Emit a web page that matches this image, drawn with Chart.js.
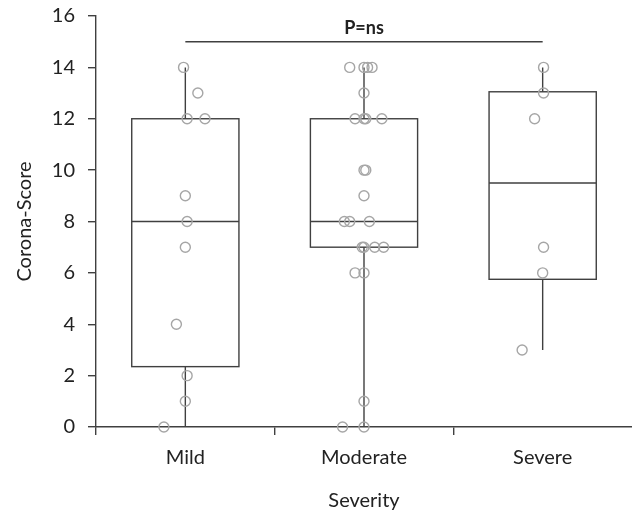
<!DOCTYPE html>
<html>
<head>
<meta charset="utf-8">
<script src="https://cdn.jsdelivr.net/npm/chart.js@4.4.0/dist/chart.umd.min.js"></script>
<style>
  html, body { margin: 0; padding: 0; background: #fff; }
  canvas { display: block; }
</style>
</head>
<body>
<canvas id="grafico" width="632" height="511"></canvas>
<script>
const categorias = ['Mild', 'Moderate', 'Severe'];

// Corona-Score por paciente + desplazamiento horizontal (jitter, en unidades de categoría)
const scoresMild = [14, 13, 12, 12, 9, 8, 7, 4, 2, 1, 0];
const jitterMild = [-0.01, 0.07, 0.01, 0.11, 0, 0.01, 0, -0.05, 0.01, 0, -0.12];

const scoresModerate = [14, 14, 14, 14, 13, 12, 12, 12, 12, 10, 10, 9, 8, 8, 8, 7, 7, 7, 7, 6, 6, 1, 0, 0];
const jitterModerate = [-0.08, 0, 0.02, 0.045, 0, -0.05, 0, 0.01, 0.1, 0, 0.01, 0, -0.11, -0.08, 0.03, -0.01, 0, 0.06, 0.11, -0.05, 0, 0, -0.12, 0];

const scoresSevere = [14, 13, 12, 7, 6, 3];
const jitterSevere = [0.005, 0.005, -0.045, 0.005, 0, -0.115];

// estadísticos de las cajas
const bigoteMin = [0, 0, 3];
const q1 = [2.35, 7, 5.75];
const mediana = [8, 8, 9.5];
const q3 = [12, 12, 13.05];
const bigoteMax = [14, 14, 14];

const yMin = 0, yMax = 16, yPaso = 2;
const textoP = 'P=ns';
const alturaP = 15;

const COLOR_LINEA = '#404040';
const COLOR_TEXTO = '#222';
const ANCHO_CAJA = 0.6;

function puntos(scores, jitter, idx) {
  return scores.map((s, i) => ({ x: idx + jitter[i], y: s }));
}

const todosPuntos = [
  ...puntos(scoresMild, jitterMild, 0),
  ...puntos(scoresModerate, jitterModerate, 1),
  ...puntos(scoresSevere, jitterSevere, 2)
];

const cajas = {
  id: 'cajas',
  beforeDatasetsDraw(chart) {
    const ctx = chart.ctx;
    const x = chart.scales.xj, y = chart.scales.y;
    ctx.save();
    ctx.strokeStyle = COLOR_LINEA;
    ctx.lineWidth = 1.4;
    categorias.forEach((c, i) => {
      const xl = x.getPixelForValue(i - ANCHO_CAJA / 2);
      const xr = x.getPixelForValue(i + ANCHO_CAJA / 2);
      const xc = x.getPixelForValue(i);
      const yq1 = y.getPixelForValue(q1[i]);
      const yq3 = y.getPixelForValue(q3[i]);
      const ymed = y.getPixelForValue(mediana[i]);
      ctx.strokeRect(xl, yq3, xr - xl, yq1 - yq3);
      ctx.beginPath();
      ctx.moveTo(xl, ymed); ctx.lineTo(xr, ymed);
      ctx.moveTo(xc, yq3); ctx.lineTo(xc, y.getPixelForValue(bigoteMax[i]));
      ctx.moveTo(xc, yq1); ctx.lineTo(xc, y.getPixelForValue(bigoteMin[i]));
      ctx.stroke();
    });
    ctx.restore();
  },
  afterDatasetsDraw(chart) {
    const ctx = chart.ctx;
    const x = chart.scales.xj, y = chart.scales.y;
    ctx.save();
    ctx.fillStyle = COLOR_TEXTO;
    ctx.font = 'bold 18px Lato';
    ctx.textAlign = 'center';
    ctx.textBaseline = 'alphabetic';
    ctx.fillText(textoP, x.getPixelForValue(1), y.getPixelForValue(alturaP) - 8);
    ctx.restore();
  }
};

window.onload = () => {
  new Chart(document.getElementById('grafico'), {
    type: 'scatter',
    plugins: [cajas],
    data: {
      datasets: [
        {
          label: 'Corona-Score',
          data: todosPuntos,
          xAxisID: 'xj',
          yAxisID: 'y',
          pointStyle: 'circle',
          pointRadius: 5,
          pointBorderWidth: 1.4,
          borderColor: '#a6a6a6',
          backgroundColor: 'rgba(0,0,0,0)',
          clip: false
        },
        {
          type: 'line',
          label: 'p',
          data: [{ x: 0, y: alturaP }, { x: 2, y: alturaP }],
          xAxisID: 'xj',
          yAxisID: 'y',
          borderColor: COLOR_LINEA,
          borderWidth: 1.4,
          pointRadius: 0,
          fill: false
        }
      ]
    },
    options: {
      responsive: false,
      animation: false,
      layout: { autoPadding: false, padding: { top: 16, left: 0, right: 0, bottom: 0 } },
      plugins: {
        legend: { display: false },
        tooltip: { enabled: false }
      },
      scales: {
        x: {
          type: 'category',
          labels: categorias,
          offset: true,
          grid: {
            offset: true, drawOnChartArea: false, tickLength: 8, lineWidth: 1.4,
            color: c => c.type === 'tick' ? COLOR_LINEA : 'rgba(0,0,0,0)'
          },
          border: { color: COLOR_LINEA, width: 1.4 },
          ticks: { padding: 11, color: COLOR_TEXTO, font: { family: 'Lato', size: 20 } },
          title: {
            display: true, text: 'Severity', color: COLOR_TEXTO,
            font: { family: 'Lato', size: 20, lineHeight: 1 },
            padding: { top: 0, bottom: 0 }
          },
          afterFit(s) { s.height = 84; s.paddingLeft = 0; s.paddingRight = 0; }
        },
        xj: { type: 'linear', display: false, min: -0.5, max: 2.5 },
        y: {
          min: yMin, max: yMax,
          ticks: { stepSize: yPaso, padding: 13, color: COLOR_TEXTO, font: { family: 'Lato', size: 20 } },
          grid: { drawOnChartArea: false, tickLength: 8, color: COLOR_LINEA, lineWidth: 1.4 },
          border: { color: COLOR_LINEA, width: 1.4 },
          title: {
            display: true, text: 'Corona-Score', color: COLOR_TEXTO,
            font: { family: 'Lato', size: 20, lineHeight: 1 },
            padding: { top: 15, bottom: 0 }
          },
          afterFit(s) { s.width = 96; s.paddingTop = 0; s.paddingBottom = 0; }
        }
      }
    }
  });
};
</script>
</body>
</html>
